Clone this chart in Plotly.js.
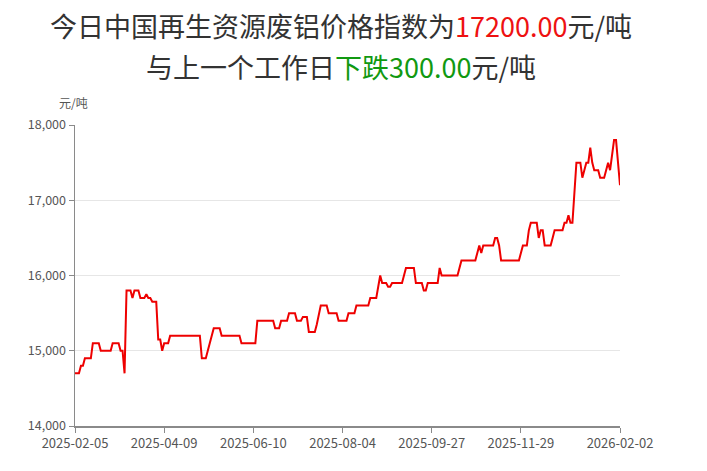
<!DOCTYPE html>
<html>
<head>
<meta charset="utf-8">
<script src="https://cdn.plot.ly/plotly-3.0.1.min.js"></script>
<style>html,body{margin:0;padding:0;background:#fff;}#chart{width:707px;height:471px;}</style>
</head>
<body>
<div id="chart"></div>
<script>
// Daily index values (元/吨), one per published working day
const prices = [
14700,14700,14700,14800,14800,14900,14900,14900,14900,15100,
15100,15100,15100,15000,15000,15000,15000,15000,15000,15100,
15100,15100,15100,15000,15000,14700,15800,15800,15800,15700,
15800,15800,15800,15700,15700,15700,15750,15700,15700,15650,
15650,15650,15150,15150,15000,15100,15100,15100,15200,15200,
15200,15200,15200,15200,15200,15200,15200,15200,15200,15200,
15200,15200,15200,15200,14900,14900,14900,15000,15100,15200,
15300,15300,15300,15300,15200,15200,15200,15200,15200,15200,
15200,15200,15200,15200,15100,15100,15100,15100,15100,15100,
15100,15100,15400,15400,15400,15400,15400,15400,15400,15400,
15400,15300,15300,15300,15400,15400,15400,15400,15500,15500,
15500,15500,15400,15400,15400,15450,15450,15450,15250,15250,
15250,15250,15350,15500,15600,15600,15600,15600,15500,15500,
15500,15500,15500,15400,15400,15400,15400,15400,15500,15500,
15500,15500,15600,15600,15600,15600,15600,15600,15600,15700,
15700,15700,15700,15850,16000,15900,15900,15900,15850,15850,
15900,15900,15900,15900,15900,15900,16000,16100,16100,16100,
16100,16100,15900,15900,15900,15900,15800,15800,15900,15900,
15900,15900,15900,15900,16100,16000,16000,16000,16000,16000,
16000,16000,16000,16000,16100,16200,16200,16200,16200,16200,
16200,16200,16200,16300,16400,16300,16400,16400,16400,16400,
16400,16400,16500,16500,16400,16200,16200,16200,16200,16200,
16200,16200,16200,16200,16200,16300,16400,16400,16400,16600,
16700,16700,16700,16700,16500,16600,16600,16400,16400,16400,
16400,16500,16600,16600,16600,16600,16600,16700,16700,16800,
16700,16700,17100,17500,17500,17500,17300,17400,17500,17500,
17700,17500,17400,17400,17400,17300,17300,17300,17400,17500,
17400,17600,17800,17800,17500,17200
];
// x-axis labels and the day index at which each is shown
const tickLabels = ["2025-02-05","2025-04-09","2025-06-10","2025-08-04","2025-09-27","2025-11-29","2026-02-02"];
const tickIndex = [0,45,90,135,180,225,275];
const yTicks = [14000,15000,16000,17000,18000];

const titleLine1 = '今日中国再生资源废铝价格指数为<span style="color:#ee1111">17200.00</span>元/吨';
const titleLine2 = '与上一个工作日<span style="color:#119911">下跌300.00</span>元/吨';
const unitLabel = '元/吨';

const idx = prices.map((_, i) => i);
const FONT = '"Noto Sans CJK SC", "Noto Sans", sans-serif';

const trace = {
  x: idx, y: prices, type: 'scatter', mode: 'lines',
  line: {color: '#ee0000', width: 2},
  hoverinfo: 'y'
};

const layout = {
  width: 707, height: 471,
  margin: {l: 75, r: 87, t: 125, b: 45},
  paper_bgcolor: '#ffffff', plot_bgcolor: '#ffffff',
  showlegend: false,
  font: {family: FONT, color: '#555'},
  xaxis: {
    range: [0, prices.length - 1],
    tickvals: tickIndex, ticktext: tickLabels,
    showgrid: false, zeroline: false,
    showline: true, linecolor: '#8a8a8a', linewidth: 1.5,
    ticks: 'outside', ticklen: 5, tickcolor: '#8a8a8a',
    tickfont: {size: 13, color: '#555', family: FONT}
  },
  yaxis: {
    range: [14000, 18000],
    tickvals: yTicks, tickformat: ',d',
    showgrid: true, gridcolor: '#e6e6e6', gridwidth: 1,
    zeroline: false,
    showline: true, linecolor: '#8a8a8a', linewidth: 1.5,
    ticks: 'outside', ticklen: 5, tickcolor: '#8a8a8a',
    tickfont: {size: 12.5, color: '#555', family: FONT}
  },
  annotations: [
    {text: titleLine1, xref: 'paper', yref: 'paper', x: 0.488, y: 1.332,
     xanchor: 'center', yanchor: 'middle', showarrow: false,
     font: {size: 27, color: '#333', family: FONT}},
    {text: titleLine2, xref: 'paper', yref: 'paper', x: 0.488, y: 1.196,
     xanchor: 'center', yanchor: 'middle', showarrow: false,
     font: {size: 27, color: '#333', family: FONT}},
    {text: unitLabel, xref: 'paper', yref: 'paper', x: -0.002, y: 1.075,
     xanchor: 'center', yanchor: 'middle', showarrow: false,
     font: {size: 12, color: '#555', family: FONT}}
  ]
};

Plotly.newPlot('chart', [trace], layout, {displayModeBar: false, staticPlot: true});
</script>
</body>
</html>
